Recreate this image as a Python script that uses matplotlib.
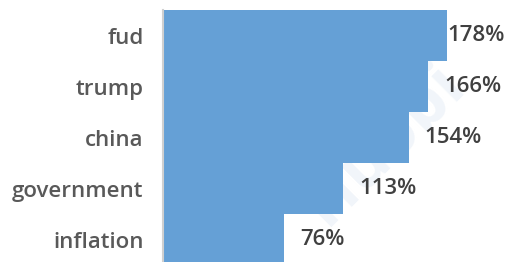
import matplotlib.pyplot as plt

# data (top to bottom)
terms = ["fud", "trump", "china", "government", "inflation"]
values = [178, 166, 154, 113, 76]
labels = ["178%", "166%", "154%", "113%", "76%"]

plt.rcParams['font.family'] = ['Open Sans', 'DejaVu Sans']

W, H = 505, 262
fig = plt.figure(figsize=(W / 100, H / 100), dpi=100)
# axes placed in pixel terms: left edge at x=163, top at y=10, bar band 51px each
ax = fig.add_axes([163 / W, (H - 10 - 255) / H, (W - 163) / W, 255 / H])

ypos = list(range(len(terms)))
ax.barh(ypos, values, height=1.0, color="#65a0d6", edgecolor="none", zorder=2)
ax.set_ylim(len(terms) - 0.5, -0.5)
ax.set_xlim(0, (W - 163) / 1.596)

for y, v, lab in zip(ypos, values, labels):
    if y == 0:
        # no room past the longest bar, label pushed to the right edge
        ax.text(1.0, y, lab, va="center", ha="right", fontsize=16,
                color="#404040", fontweight="semibold", zorder=3,
                transform=ax.get_yaxis_transform())
    else:
        ax.text(v + 10, y, lab, va="center", ha="left", fontsize=16,
                color="#404040", fontweight="semibold", zorder=3)

ax.set_yticks(ypos)
ax.set_yticklabels(terms, fontsize=16, color="#595959", fontweight="semibold")
ax.tick_params(axis="y", length=0, pad=14)
ax.set_xticks([])
for s in ["top", "right", "bottom"]:
    ax.spines[s].set_visible(False)
ax.spines["left"].set_color("#d0d0d0")
ax.spines["left"].set_linewidth(1.5)

# faint watermark behind the bars
ax.text(0.76, 0.45, "Huobi", fontsize=48, fontweight="bold", color="#f1f5fa",
        rotation=45, ha="center", va="center", zorder=1,
        transform=fig.transFigure)

fig.savefig("out.png", dpi=100)
